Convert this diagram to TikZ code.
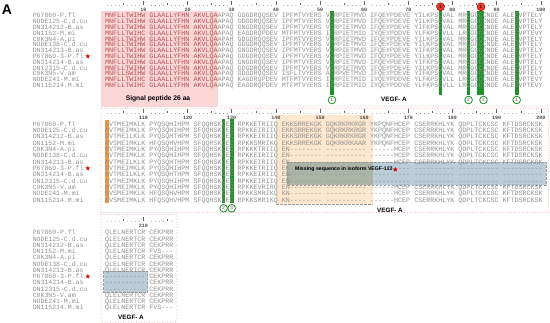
\documentclass[tikz,border=0pt]{standalone}
\usepackage{fontspec}
\setmainfont{Liberation Sans}
\setmonofont{Liberation Mono}
\usetikzlibrary{shapes.geometric}
\definecolor{seqgrey}{RGB}{145,145,145}
\definecolor{sigred}{RGB}{182,82,82}
\definecolor{sigpink}{RGB}{251,214,214}
\definecolor{framepink}{RGB}{242,192,192}
\definecolor{hlorange}{RGB}{242,155,65}
\definecolor{exorange}{RGB}{253,231,206}
\definecolor{bandblue}{RGB}{186,205,216}
\definecolor{bandmix}{RGB}{172,180,166}
\definecolor{cysgreen}{RGB}{30,145,40}
\definecolor{cysred}{RGB}{222,62,42}
\newcommand\seqfont{\fontsize{6.69pt}{7pt}\selectfont\ttfamily}
\newcommand\namefont{\fontsize{6.5pt}{7pt}\selectfont\ttfamily}
\newcommand\drawruler[2]{%
  \foreach \p in {1,...,#2}{%
    \pgfmathsetmacro\rx{105.2+(\p-1+int((\p-1)/10)+0.5)*4.015}%
    \pgfmathtruncatemacro\rten{mod(\p,10)}%
    \pgfmathtruncatemacro\rfive{mod(\p,5)}%
    \ifnum\rten=0
      \draw[rulerline] (\rx,#1) -- (\rx,#1-4);
    \else\ifnum\rfive=0
      \draw[rulerline] (\rx,#1) -- (\rx,#1-2.6);
    \else
      \fill[black!55] (\rx,#1) circle (0.4pt);
    \fi\fi
  }}
\newcommand\drawnames[3]{%
  \foreach \nm [count=\i] in {P67860-P.fl,NODE125-C.d.cu,DN314212-B.as,DN1152-M.mi,C0K3N4-A.pi,NODE138-C.d.cu,DN314213-B.as,P67860-3-P.fl,DN314214-B.as,DN12315-C.d.cu,C0K3N5-V.am,NODE241-M.mi,DN115214.M.mi}{%
    \node[namestyle] (nm#3-\i) at (32.8,{#1+(\i-1)*#2+2.2}) {\nm};
  }
  \node[redstar] (star#3) at (87.8,{#1+7*#2}) {};
}
\begin{document}
\begin{tikzpicture}[x=1pt,y=-1pt,
  namestyle/.style={anchor=base west,inner sep=0pt,outer sep=0pt,font=\namefont,text=seqgrey},
  seqstyle/.style={anchor=base west,inner sep=0pt,outer sep=0pt,font=\seqfont,text=seqgrey},
  rulerline/.style={draw=black!60,line width=0.5pt},
  numlabel/.style={inner sep=0pt,font=\fontsize{5pt}{5pt}\selectfont\ttfamily\bfseries,text=black!70},
  redstar/.style={star,star points=5,star point ratio=2.3,fill=red!85!black,inner sep=0pt,minimum size=5pt},
  framedot/.style={draw=framepink,line width=1.1pt,line cap=round,dash pattern=on 0pt off 2.6pt},
  bandline/.style={draw=black!40,line width=0.7pt,dash pattern=on 2.5pt off 1.5pt},
  cysbar/.style={fill=cysgreen},
  gcirc/.style={circle,draw=cysgreen,line width=0.8pt,fill=white,minimum size=7.6pt,inner sep=0pt,font=\fontsize{4.6pt}{5pt}\selectfont,text=black!75},
  rcirc/.style={circle,draw=red!70!black,line width=0.5pt,fill=cysred,minimum size=8pt,inner sep=0pt,font=\fontsize{4.6pt}{5pt}\selectfont,text=black},
  domlabel/.style={inner sep=0pt,font=\fontsize{6.3pt}{7pt}\selectfont\bfseries,text=black}]
\useasboundingbox (0,0) rectangle (550,323);
% panel letter
\node[inner sep=0pt,font=\fontsize{14pt}{14pt}\selectfont\bfseries] (panelA) at (7,10) {A};
% frames
\draw[framedot] (217.6,106) -- (548.5,106);
\draw[framedot] (101,108.3) rectangle (548.5,212.5);
\draw[framedot] (101,214.5) rectangle (177,322);
% ---------- block 1 ----------
\fill[sigpink] (101,11.5) rectangle (217.6,107);
\fill[cysbar] (330.2,11.5) rectangle (333.8,95.5);
\fill[cysbar] (438.7,11.5) rectangle (442.3,95.5);
\fill[cysbar] (466.8,11.5) rectangle (470.4,95.5);
\fill[cysbar] (477.4,11.5) rectangle (484.0,95.5);
\fill[cysbar] (514.9,11.5) rectangle (518.5,95.5);
\drawruler{5.5}{100}
\foreach \k in {1,...,10}{\pgfmathtruncatemacro\lab{10*\k}\node[numlabel] (l1-\k) at ({105.2+(11*\k-1.5)*4.015},10.3) {\lab};}
\drawnames{15.5}{5.83}{1}
\foreach \a/\b [count=\i] in {
 {MNFLLTWIHW GLAALLYFHN AKVLQA}/{APAQ GDGDRQQSEV IPFMTVYERS VCRPIETMVD IFQEYPDEVE YILKPSCVAL MRCGGCCNDE ALECVPTELY},
 {MNFLLTWIHW GLAALLYFHN AKVLQA}/{APAQ GDGDRQQSEV IPFMTVYERS VCRPIETMVD IFQEYPDEVE YILKPSCVAL MRCGGCCNDE ALECVPTELY},
 {MNFLLTWIHW GLAALLYFHN AKVLQA}/{APAQ GNGDRQQSEV IPFMTVYERS VCRPIETMVD IFQEYPDEVE YIFKPSCVAL MRCGGCCNDE ALECVPTELY},
 {MNFLLTWIHC GLAALLYFHN AKVLQA}/{APAQ EAGDRQPDEV MTFMTVYERS ICRPIETMID IYQEYPDDVE YLFKPSCVLL LRCGGCCNDE ALECVPTEVY},
 {MNFLLTWIHW GLAALLYFHN AKVLQA}/{APAH GDGDRQQSEV IPFMTVYERS VCRPIETMVD IFQEYPDEVE YILKPSCVAL MRCGGCCNDE ALECVPTELY},
 {MNFLLTWIHW GLAALLYFHN AKVLQA}/{APAQ GDGDRQQSEV IPFMTVYERS VCRPIETMVD IFQEYPDEVE YILKPSCVAL MRCGGCCNDE ALECVPTELY},
 {MNFLLTWIHW GLAALLYFHN AKVLQA}/{APAQ GNGDRQQSEV IPFMTVYERS VCRPIETMVD IFQEYPDEVE YIFKPSCVAL MRCGGCCNDE ALECVPTELY},
 {MNFLLTWIHW GLAALLYFHN AKVLQA}/{APAQ GDGDRQQSEV IPFMTVYERS VCRPIETMVD IFQDYPDEVE YILKPSCVAL MRCGGCCNDE ALECVPTELY},
 {MNFLLTWIHW GLAALLYFHN AKVLQA}/{APAQ GNGDRQQSEV IPFMTVYERS VCRPIETMVD IFQEYPDEVE YIFKPSCVAL MRCGGCCNDE ALECVPTELY},
 {MNFLLTWIHW GLAALLYFHN AKVLQA}/{APAQ GDGDRQQSEV IPFMTVYERS VCRPIETMVD IFQEYPDEVE YILKPSCVAL MRCGGCCNDE ALECVPTELY},
 {MNFLLSWIHW GLAALLYFHN AKVLQA}/{APAQ GDGDRQQSEV ISFLTVYERS ACRPVETMVD IFQEYPDEVE YIFKPSCVAL MRCGGCCNDE ALECVPTELY},
 {MNFLLTWIHC GLAALLYFHN AKVLQA}/{APAQ KAGDRQPDEV MTFMTVYERS ICRPIETMID IYQEYPDDVE YLFKPSCVLL LRCGGCCNDE ALECVPTEVY},
 {MNFLLTWIHC GLAALLYFHN AKVLQA}/{APAQ EAGDRQPDEV MTFMTVYERS ICRPIETMID IYQEYPDDVE YLFKPSCVLL LRCGGCCNDE ALECVPTEVY}}{%
  \node[seqstyle] (s1-\i) at (105.2,{15.5+(\i-1)*5.83+2.2}) {\textcolor{sigred}{\a}\b};
}
\node[inner sep=0pt,font=\fontsize{6.7pt}{7pt}\selectfont\bfseries] (sigpep) at (158,98.8) {Signal peptide 26 aa};
\node[domlabel] (vegf1) at (394,99) {VEGF- A};
\node[gcirc] (c1a) at (332.0,100) {1};
\node[gcirc] (c1b) at (468.6,100) {2};
\node[gcirc] (c1c) at (483.5,100) {3};
\node[gcirc] (c1d) at (516.7,100) {1};
\node[rcirc] (r1a) at (440.5,6.8) {1};
\node[rcirc] (r1b) at (481.0,6.8) {1};
% ---------- block 2 ----------
\fill[exorange] (276,115.5) rectangle (373,204);
\draw[bandline] (276,204) -- (373,204);
\fill[hlorange] (105.2,120) rectangle (109.2,203);
\fill[cysbar] (221.8,119) rectangle (225.4,203.5);
\fill[cysbar] (229.9,119) rectangle (233.5,203.5);
\fill[bandblue] (287,162) rectangle (546,185.5);
\fill[bandmix] (287,162) rectangle (373,185.5);
\draw[bandline] (287,162) rectangle (546,185.5);
\drawruler{113.5}{100}
\foreach \k in {1,...,10}{\pgfmathtruncatemacro\lab{100+10*\k}\node[numlabel] (l2-\k) at ({105.2+(11*\k-1.5)*4.015},118) {\lab};}
\drawnames{124}{6.33}{2}
\foreach \b [count=\i] in {
 {NVTMEIMKLK PYQSQHIHPM SFQQHSKCEC RPKKETRIIQ EKKSRREKGK GQKRKRKRGR YKPQNFHCEP CSERRKHLYK QDPLTCKCSC KFTDSRCKSK},
 {NVTMEIMKLK PYQSQHIHPM SFQQHSKCEC RPKKEIRIIQ EKKSRREKGK GQKRKRKRGR YKPQNFHCEP CSERRKHLYK QDPLTCKCSC KFTDSRCKSK},
 {NVTMEILKLK PYQSQHTHPM SFQQHSKCEC RPKKEIRIIQ EKKSRREKGK GQKRKRKRGR YKPQNFHCEP CSERRKHLYK QDPLTCKCSC KFTDSRCKSK},
 {NVSMEIMKLK HFQSQHVHPM SFQQHSKCEC RPKKSMRIKQ EKKSRREKGK GQKRKRKAAR YKPQNFHCEP CSERRKHLYK QDPLTCKCSC KFTDSRCKSK},
 {NVTMEIMKLK PYQSQHIHPM SFQQHSKCEC RPKKKTRIIQ EN-------- ---------- ------HCEP CSERRKHLYK QDPLTCKCSC KFTDSRCKSK},
 {NVTMEIMKLK PYQSQHIHPM SFQQHSKCEC RPKKEIRIIQ EN-------- ---------- ------HCEP CSERRKHLYK QDPLTCKCSC KFTDSRCKSK},
 {NVTMEILKLK PYQSQHTHPM SFQQHSKCEC RPKKEIRIIQ EN-------- ---------- ------HCEP CSERRKHLYK QDPLTCKCSC KFTDSRCKSK},
 {NVTMEIMKLK PYQSQHIHPM SFQQHSKCEC RPKKETRIIQ EK-------- ---------- ---------- ---------- ---------- ----------},
 {NVTMEILKLK PYQSQHTHPM SFQQHSKCEC RPKKEIRIIQ EN-------- ---------- ---------- ---------- ---------- ----------},
 {NVTMEIMKLK PYQSQHIHPM SFQQHSKCEC RPKKEIRIIQ EN-------- ---------- ---------- ---------- ---------- ----------},
 {NVTMEIMKLK PYQSQHIHPM SFQQHSKCEC RPKKEVRIRQ EN-------- ---------- ------HCEP CSERRKHLYK QDPLTCKCSC KFTDSRCKSK},
 {NVSMEIMKLK HFQSQHVHPM SFQQHSKCEC RPKKSMRIKQ KN-------- ---------- ------HCEP CSERRKHLYK QDPLTCKCSC KFTDSRCKSK},
 {NVSMEIMKLK HFQSQHVHPM SFQQHSKCEC RPKKSMRIKQ KN-------- ---------- ------HCEP CSERRKHLYK QDPLTCKCSC KFTDSRCKSK}}{%
  \node[seqstyle] (s2-\i) at (105.2,{124+(\i-1)*6.33+2.2}) {\b};
}
\node[anchor=west,inner sep=0pt,font=\fontsize{5.2pt}{6pt}\selectfont\bfseries] (miss) at (295,169.5) {Missing sequence in isoform VEGF-122};
\node[redstar,anchor=west] (missstar) at ([xshift=0.8pt]miss.east) {};
\node[domlabel] (vegf2) at (390,210) {VEGF- A};
\node[gcirc] (c2a) at (223.6,208.3) {2};
\node[gcirc] (c2b) at (231.7,208.3) {3};
% ---------- block 3 ----------
\fill[bandblue] (103.5,271.5) rectangle (147.5,292);
\draw[bandline] (103.5,271.5) rectangle (147.5,292);
\drawruler{221.3}{16}
\node[numlabel] (l3-1) at ({105.2+9.5*4.015},225.5) {210};
\drawnames{232.7}{6.25}{3}
\foreach \b [count=\i] in {
 {QLELNERTCR CEKPRR},{QLELNERTCR CEKPRR},{QLELNERTCR CEKPRR},{QLELNERTCR FVS---},
 {QLELNERTCR CEKPRR},{QLELNERTCR CEKPRR},{QLELNERTCR CEKPRR},{---------- CEKPRR},
 {---------- CEKPRR},{---------- CEKPRR},{QLELNERTCR CEKPRR},{QLELNERTCR CEKPRR},
 {QLELNERTCR FVS---}}{%
  \node[seqstyle] (s3-\i) at (105.2,{232.7+(\i-1)*6.25+2.2}) {\b};
}
\node[domlabel] (vegf3) at (131,317.5) {VEGF- A};
\end{tikzpicture}
\end{document}
